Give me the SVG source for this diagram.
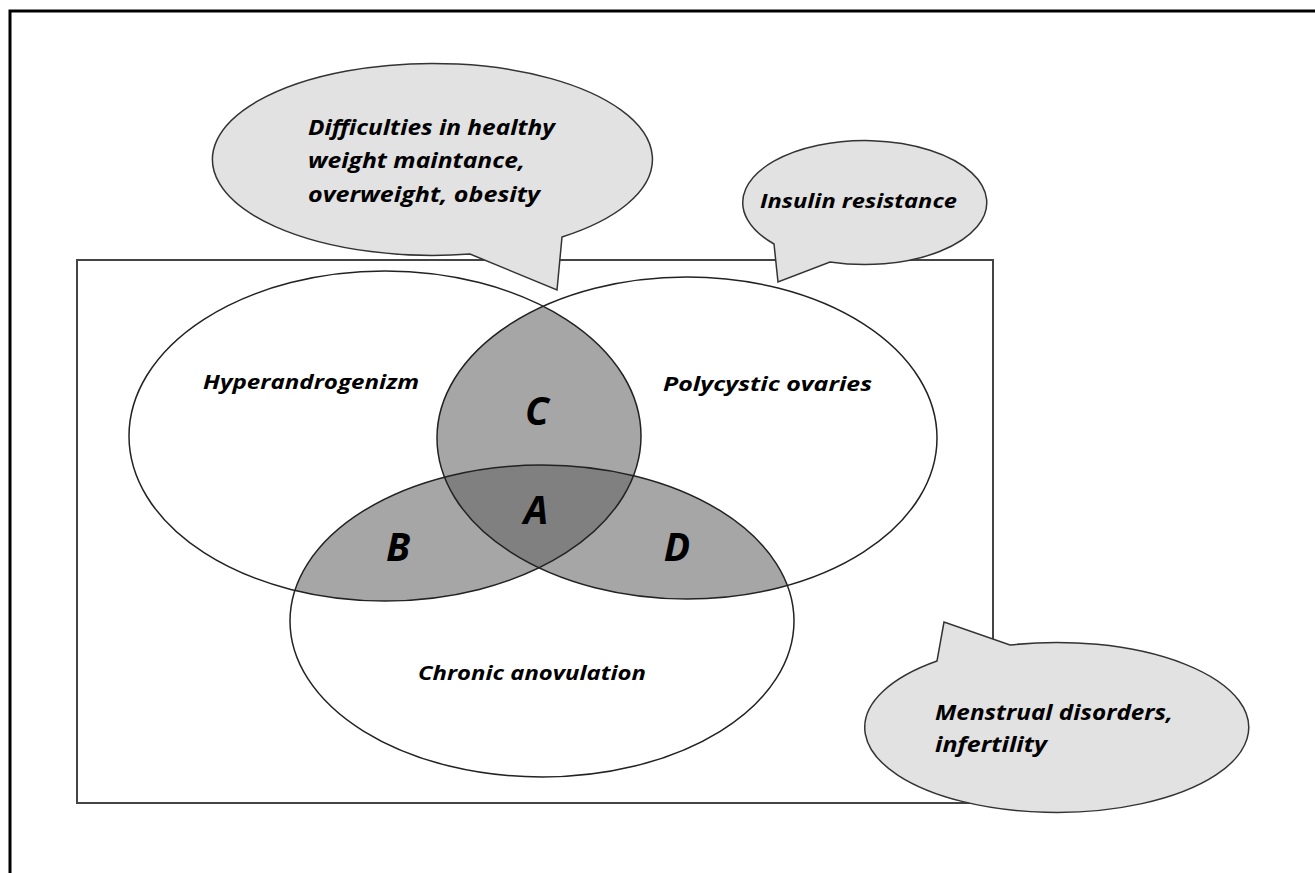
<svg xmlns="http://www.w3.org/2000/svg" width="1315" height="873" viewBox="0 0 1315 873">
<style>
.frame{fill:none;stroke:#000;stroke-width:3}
.box{fill:none;stroke:#444;stroke-width:2}
.callout{fill:#e2e2e2;stroke:#333;stroke-width:1.5;stroke-linejoin:miter}
.ell{fill:none;stroke:#222;stroke-width:1.5}
.t{font-family:"Open Sans","Liberation Sans",sans-serif;font-weight:bold;font-style:italic;fill:#000}
.s{font-size:21px}
.m{font-size:20px}
.big{font-size:39px}
</style>
<defs>
<ellipse id="eH" cx="385" cy="436" rx="256" ry="165"/>
<ellipse id="eP" cx="687" cy="438" rx="250" ry="161"/>
<ellipse id="eC" cx="542" cy="621" rx="252" ry="156"/>
<clipPath id="cH"><use href="#eH"/></clipPath>
<clipPath id="cP"><use href="#eP"/></clipPath>
</defs>
<rect width="1315" height="873" fill="#fff"/>
<path class="frame" d="M10,873 V11 H1315"/>
<rect id="inner" class="box" x="77" y="260" width="916" height="543"/>

<g id="venn">
<use href="#eH" fill="#fff"/>
<use href="#eP" fill="#fff"/>
<use href="#eC" fill="#fff"/>
<g clip-path="url(#cH)"><use href="#eP" fill="#a6a6a6"/><use href="#eC" fill="#a6a6a6"/></g>
<g clip-path="url(#cP)"><use href="#eC" fill="#a6a6a6"/></g>
<g clip-path="url(#cH)"><g clip-path="url(#cP)"><use href="#eC" fill="#808080"/></g></g>
<g id="hyper"><use href="#eH" class="ell"/><text class="t m" x="203" y="389" textLength="216" lengthAdjust="spacingAndGlyphs">Hyperandrogenizm</text></g>
<g id="poly"><use href="#eP" class="ell"/><text class="t m" x="663" y="391" textLength="209" lengthAdjust="spacingAndGlyphs">Polycystic ovaries</text></g>
<g id="chronic"><use href="#eC" class="ell"/><text class="t m" x="418" y="680" textLength="228" lengthAdjust="spacingAndGlyphs">Chronic anovulation</text></g>
<g id="regC"><text class="t big" x="537" y="425" text-anchor="middle">C</text></g>
<g id="regA"><text class="t big" x="536" y="524" text-anchor="middle">A</text></g>
<g id="regB"><text class="t big" x="398" y="561" text-anchor="middle">B</text></g>
<g id="regD"><text class="t big" x="677" y="561" text-anchor="middle">D</text></g>
</g>

<g id="callout-weight">
<path class="callout" d="M470,254 A220,96 0 1 1 562,237 L557,290 Z"/>
<text class="t s" x="308" y="135" textLength="247" lengthAdjust="spacingAndGlyphs">Difficulties in healthy</text>
<text class="t s" x="308" y="168" textLength="217" lengthAdjust="spacingAndGlyphs">weight maintance,</text>
<text class="t s" x="308" y="202" textLength="232" lengthAdjust="spacingAndGlyphs">overweight, obesity</text>
</g>

<g id="callout-insulin">
<path class="callout" d="M774,244 A122,62 0 1 1 830,262 L778,282 Z"/>
<text class="t m" x="760" y="208" textLength="197" lengthAdjust="spacingAndGlyphs">Insulin resistance</text>
</g>

<g id="callout-menstrual">
<path class="callout" d="M1010,645 A192,85 0 1 1 937,661 L944,622 Z"/>
<text class="t s" x="935" y="720" textLength="238" lengthAdjust="spacingAndGlyphs">Menstrual disorders,</text>
<text class="t s" x="935" y="752" textLength="112" lengthAdjust="spacingAndGlyphs">infertility</text>
</g>
</svg>
